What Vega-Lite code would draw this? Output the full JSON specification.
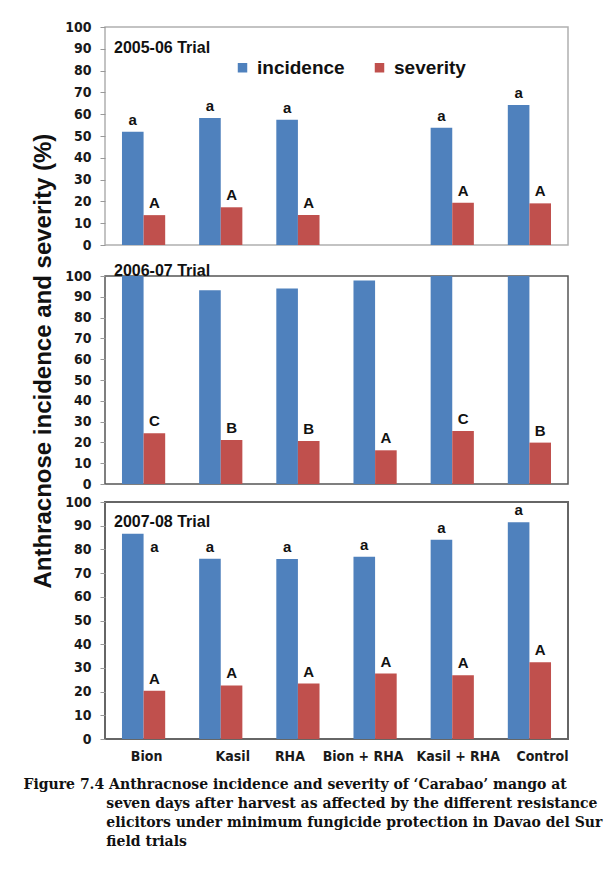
{
  "$schema": "https://vega.github.io/schema/vega-lite/v6.json",
  "background": "white",
  "padding": {"left": 22, "top": 19, "right": 5, "bottom": 5},
  "datasets": {
    "d": [
      {"trial": "2005-06", "treatment": "Bion", "series": "incidence", "value": 52.0, "letter": "a"},
      {"trial": "2005-06", "treatment": "Bion", "series": "severity", "value": 13.7, "letter": "A"},
      {"trial": "2005-06", "treatment": "Kasil", "series": "incidence", "value": 58.3, "letter": "a"},
      {"trial": "2005-06", "treatment": "Kasil", "series": "severity", "value": 17.3, "letter": "A"},
      {"trial": "2005-06", "treatment": "RHA", "series": "incidence", "value": 57.5, "letter": "a"},
      {"trial": "2005-06", "treatment": "RHA", "series": "severity", "value": 13.8, "letter": "A"},
      {"trial": "2005-06", "treatment": "Kasil + RHA", "series": "incidence", "value": 53.8, "letter": "a"},
      {"trial": "2005-06", "treatment": "Kasil + RHA", "series": "severity", "value": 19.4, "letter": "A"},
      {"trial": "2005-06", "treatment": "Control", "series": "incidence", "value": 64.2, "letter": "a"},
      {"trial": "2005-06", "treatment": "Control", "series": "severity", "value": 19.1, "letter": "A"},
      {"trial": "2006-07", "treatment": "Bion", "series": "incidence", "value": 100, "letter": ""},
      {"trial": "2006-07", "treatment": "Bion", "series": "severity", "value": 24.4, "letter": "C"},
      {"trial": "2006-07", "treatment": "Kasil", "series": "incidence", "value": 93.2, "letter": ""},
      {"trial": "2006-07", "treatment": "Kasil", "series": "severity", "value": 21.1, "letter": "B"},
      {"trial": "2006-07", "treatment": "RHA", "series": "incidence", "value": 94.0, "letter": ""},
      {"trial": "2006-07", "treatment": "RHA", "series": "severity", "value": 20.7, "letter": "B"},
      {"trial": "2006-07", "treatment": "Bion + RHA", "series": "incidence", "value": 97.8, "letter": ""},
      {"trial": "2006-07", "treatment": "Bion + RHA", "series": "severity", "value": 16.2, "letter": "A"},
      {"trial": "2006-07", "treatment": "Kasil + RHA", "series": "incidence", "value": 100, "letter": ""},
      {"trial": "2006-07", "treatment": "Kasil + RHA", "series": "severity", "value": 25.5, "letter": "C"},
      {"trial": "2006-07", "treatment": "Control", "series": "incidence", "value": 100, "letter": ""},
      {"trial": "2006-07", "treatment": "Control", "series": "severity", "value": 19.9, "letter": "B"},
      {"trial": "2007-08", "treatment": "Bion", "series": "incidence", "value": 86.6, "letter": "a"},
      {"trial": "2007-08", "treatment": "Bion", "series": "severity", "value": 20.4, "letter": "A"},
      {"trial": "2007-08", "treatment": "Kasil", "series": "incidence", "value": 76.1, "letter": "a"},
      {"trial": "2007-08", "treatment": "Kasil", "series": "severity", "value": 22.6, "letter": "A"},
      {"trial": "2007-08", "treatment": "RHA", "series": "incidence", "value": 76.0, "letter": "a"},
      {"trial": "2007-08", "treatment": "RHA", "series": "severity", "value": 23.4, "letter": "A"},
      {"trial": "2007-08", "treatment": "Bion + RHA", "series": "incidence", "value": 76.9, "letter": "a"},
      {"trial": "2007-08", "treatment": "Bion + RHA", "series": "severity", "value": 27.6, "letter": "A"},
      {"trial": "2007-08", "treatment": "Kasil + RHA", "series": "incidence", "value": 84.1, "letter": "a"},
      {"trial": "2007-08", "treatment": "Kasil + RHA", "series": "severity", "value": 26.9, "letter": "A"},
      {"trial": "2007-08", "treatment": "Control", "series": "incidence", "value": 91.5, "letter": "a"},
      {"trial": "2007-08", "treatment": "Control", "series": "severity", "value": 32.4, "letter": "A"}
    ]
  },
  "title": {
    "text": "Anthracnose incidence and severity (%)",
    "orient": "left",
    "anchor": "middle",
    "frame": "bounds",
    "offset": -34,
    "dx": 73,
    "font": "Liberation Sans",
    "fontSize": 24,
    "fontWeight": "bold",
    "color": "#111111"
  },
  "spacing": 2,
  "resolve": {"legend": {"color": "independent"}},
  "vconcat": [
    {
      "width": 463,
      "height": 218,
      "data": {"name": "d"},
      "transform": [{"filter": "datum.trial === '2005-06'"}],
      "title": {"text": "2005-06 Trial", "anchor": "start", "frame": "group", "orient": "top", "offset": -36, "dx": 9, "fontSize": 16, "font": "Liberation Sans", "fontWeight": "bold", "color": "#111111"},
      "view": {"stroke": "#b0b0b0", "strokeWidth": 1.5},
      "encoding": {
        "x": {"field": "treatment", "type": "nominal", "sort": ["Bion", "Kasil", "RHA", "Bion + RHA", "Kasil + RHA", "Control"],
              "scale": {"domain": ["Bion", "Kasil", "RHA", "Bion + RHA", "Kasil + RHA", "Control"], "paddingInner": 0.44, "paddingOuter": 0.22},
              "axis": {"title": null, "labelOpacity": 0, "labelPadding": 3, "labelFontSize": 12, "ticks": false, "domain": false, "labelOverlap": false}},
        "xOffset": {"field": "series", "type": "nominal", "scale": {"domain": ["incidence", "severity"], "paddingInner": 0, "paddingOuter": 0}},
        "y": {"field": "value", "type": "quantitative", "scale": {"domain": [0, 100], "nice": false},
              "axis": {"title": null, "values": [0, 10, 20, 30, 40, 50, 60, 70, 80, 90, 100], "labelOverlap": false}}
      },
      "layer": [
        {"mark": {"type": "bar", "clip": true},
         "encoding": {"color": {"field": "series", "type": "nominal", "scale": {"domain": ["incidence", "severity"], "range": ["#4f81bd", "#c0504d"]},
           "legend": {"title": null, "orient": "none", "legendX": 128, "legendY": 31, "direction": "horizontal", "symbolType": "square", "symbolSize": 90, "symbolStrokeWidth": 0, "labelFont": "Liberation Sans", "labelFontSize": 19, "labelFontWeight": "bold", "labelColor": "#111111", "labelOffset": 5, "columnPadding": 25}}}},
        {"transform": [{"filter": "datum.letter !== ''"}],
         "mark": {"type": "text", "baseline": "bottom", "dy": -4, "font": "Liberation Sans", "fontSize": 15, "fontWeight": "bold", "color": "#111111"},
         "encoding": {"text": {"field": "letter"}}}
      ]
    },
    {
      "width": 463,
      "height": 208,
      "data": {"name": "d"},
      "transform": [{"filter": "datum.trial === '2006-07'"}],
      "title": {"text": "2006-07 Trial", "anchor": "start", "frame": "group", "orient": "top", "offset": -10, "dx": 9, "fontSize": 16, "font": "Liberation Sans", "fontWeight": "bold", "color": "#111111"},
      "view": {"stroke": "#555555", "strokeWidth": 1.5},
      "encoding": {
        "x": {"field": "treatment", "type": "nominal", "sort": ["Bion", "Kasil", "RHA", "Bion + RHA", "Kasil + RHA", "Control"],
              "scale": {"domain": ["Bion", "Kasil", "RHA", "Bion + RHA", "Kasil + RHA", "Control"], "paddingInner": 0.44, "paddingOuter": 0.22},
              "axis": null},
        "xOffset": {"field": "series", "type": "nominal", "scale": {"domain": ["incidence", "severity"], "paddingInner": 0, "paddingOuter": 0}},
        "y": {"field": "value", "type": "quantitative", "scale": {"domain": [0, 100], "nice": false},
              "axis": {"title": null, "values": [0, 10, 20, 30, 40, 50, 60, 70, 80, 90, 100], "labelOverlap": false}}
      },
      "layer": [
        {"mark": {"type": "bar", "clip": true},
         "encoding": {"color": {"field": "series", "type": "nominal", "scale": {"domain": ["incidence", "severity"], "range": ["#4f81bd", "#c0504d"]}, "legend": null}}},
        {"transform": [{"filter": "datum.letter !== ''"}],
         "mark": {"type": "text", "baseline": "bottom", "dy": -4, "font": "Liberation Sans", "fontSize": 15, "fontWeight": "bold", "color": "#111111"},
         "encoding": {"text": {"field": "letter"}}}
      ]
    },
    {
      "width": 463,
      "height": 237,
      "data": {"name": "d"},
      "transform": [{"filter": "datum.trial === '2007-08'"}],
      "title": {"text": "2007-08 Trial", "anchor": "start", "frame": "group", "orient": "top", "offset": -35, "dx": 9, "fontSize": 16, "font": "Liberation Sans", "fontWeight": "bold", "color": "#111111"},
      "view": {"stroke": "#666666", "strokeWidth": 2},
      "encoding": {
        "x": {"field": "treatment", "type": "nominal", "sort": ["Bion", "Kasil", "RHA", "Bion + RHA", "Kasil + RHA", "Control"],
              "scale": {"domain": ["Bion", "Kasil", "RHA", "Bion + RHA", "Kasil + RHA", "Control"], "paddingInner": 0.44, "paddingOuter": 0.22},
              "axis": {
                "title": [
                  "Figure 7.4 Anthracnose incidence and severity of ‘Carabao’ mango at",
                  "\u200b\u00a0\u00a0\u00a0\u00a0\u00a0\u00a0\u00a0\u00a0\u00a0\u00a0\u00a0\u00a0\u00a0\u00a0\u00a0\u00a0\u00a0seven days after harvest as affected by the different resistance",
                  "\u200b\u00a0\u00a0\u00a0\u00a0\u00a0\u00a0\u00a0\u00a0\u00a0\u00a0\u00a0\u00a0\u00a0\u00a0\u00a0\u00a0\u00a0elicitors under minimum  fungicide protection in Davao del Sur",
                  "\u200b\u00a0\u00a0\u00a0\u00a0\u00a0\u00a0\u00a0\u00a0\u00a0\u00a0\u00a0\u00a0\u00a0\u00a0\u00a0\u00a0\u00a0field trials"
                ],
                "titleFont": "DejaVu Serif", "titleFontSize": 14, "titleFontWeight": "bold", "titleColor": "#111111",
                "titleAnchor": "start", "titleAlign": "left", "titleX": -82, "titlePadding": 14, "titleLineHeight": 19,
                "labelPadding": 10, "ticks": false, "domain": false, "labelOverlap": false,
                "labelOffset": {"expr": "datum.value === 'Bion' ? 3 : datum.value === 'Kasil' ? 12 : datum.value === 'RHA' ? -8 : datum.value === 'Bion + RHA' ? -12 : datum.value === 'Kasil + RHA' ? 6 : 13"}}},
        "xOffset": {"field": "series", "type": "nominal", "scale": {"domain": ["incidence", "severity"], "paddingInner": 0, "paddingOuter": 0}},
        "y": {"field": "value", "type": "quantitative", "scale": {"domain": [0, 100], "nice": false},
              "axis": {"title": null, "values": [0, 10, 20, 30, 40, 50, 60, 70, 80, 90, 100], "labelOverlap": false}}
      },
      "layer": [
        {"mark": {"type": "bar", "clip": true},
         "encoding": {"color": {"field": "series", "type": "nominal", "scale": {"domain": ["incidence", "severity"], "range": ["#4f81bd", "#c0504d"]}, "legend": null}}},
        {"transform": [{"filter": "datum.letter !== '' && !(datum.treatment === 'Bion' && datum.series === 'incidence')"}],
         "mark": {"type": "text", "baseline": "bottom", "dy": -4, "font": "Liberation Sans", "fontSize": 15, "fontWeight": "bold", "color": "#111111"},
         "encoding": {"text": {"field": "letter"}}},
        {"transform": [{"filter": "datum.treatment === 'Bion' && datum.series === 'incidence'"}],
         "mark": {"type": "text", "baseline": "top", "dy": 6, "font": "Liberation Sans", "fontSize": 15, "fontWeight": "bold", "color": "#111111"},
         "encoding": {"text": {"field": "letter"}, "xOffset": {"datum": "severity"}}}
      ]
    }
  ],
  "config": {
    "axis": {"grid": false, "labelFont": "DejaVu Sans Condensed", "labelFontWeight": "bold", "labelFontSize": 14, "labelColor": "#1a1a1a"},
    "axisX": {"labelAngle": 0},
    "axisY": {"tickColor": "#999999", "tickSize": 5, "labelPadding": 9, "domain": false}
  }
}
